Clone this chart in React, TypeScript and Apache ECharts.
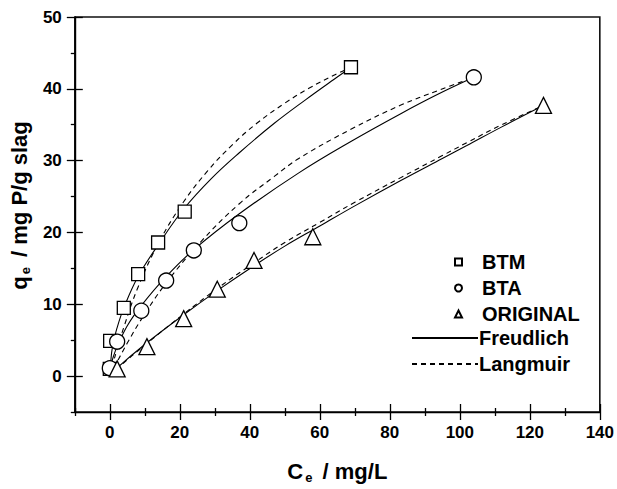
import React, { useEffect, useRef } from "react";
import * as echarts from "echarts";

// Experimental points (Ce, qe)
const BTM = [[0, 1.0], [0.1, 4.9], [4.0, 9.5], [8.1, 14.2], [13.8, 18.6], [21.4, 22.9], [68.9, 43.0]];
const BTA = [[0, 1.1], [2.1, 4.8], [9.0, 9.1], [16.1, 13.3], [24.0, 17.5], [37.0, 21.3], [104.0, 41.6]];
const ORIGINAL = [[2.1, 1.0], [10.6, 4.1], [21.1, 8.0], [30.7, 12.1], [41.2, 16.1], [58.0, 19.4], [123.9, 37.7]];

// Fitted curves
const BTM_FREUNDLICH = [[0, 0], [0.5, 3.2], [1, 4.6], [2, 6.6], [4, 9.5], [8, 13.8], [14, 18.4], [21, 23.2], [29, 27.5], [37, 31.1], [47, 35.2], [56, 38.5], [64, 41.3], [69, 43.0]];
const BTM_LANGMUIR = [[0, 0], [1, 1.9], [2, 3.6], [4, 6.8], [8, 12.3], [14, 18.6], [21, 24.2], [28, 28.6], [35, 32.2], [42, 35.2], [50, 38.0], [57, 40.1], [64, 41.9], [69, 43.0]];
const BTA_FREUNDLICH = [[0, 0], [0.5, 1.8], [1, 2.7], [2, 4.0], [5, 7.0], [9, 9.8], [16, 13.8], [24, 17.6], [37, 22.6], [54, 28.3], [69, 32.7], [83, 36.5], [94, 39.3], [104, 41.6]];
const BTA_LANGMUIR = [[0, 0], [2, 1.9], [5, 4.6], [9, 7.9], [16, 12.9], [26, 18.7], [37, 24.0], [47, 27.8], [54, 30.3], [69, 34.4], [83, 37.7], [94, 39.8], [104, 41.6]];
const ORIGINAL_FREUNDLICH = [[0, 0], [2, 1.1], [10.5, 4.6], [21, 8.5], [31, 12.0], [41, 15.3], [50, 18.1], [60, 20.9], [70, 23.7], [83, 27.2], [95, 30.3], [102, 32.1], [112, 34.7], [124, 37.7]];
const ORIGINAL_LANGMUIR = [[0, 0], [2, 1.0], [10.5, 4.5], [21, 8.6], [31, 12.3], [41, 15.7], [50, 18.6], [60, 21.4], [70, 24.2], [83, 27.6], [95, 30.7], [102, 32.5], [112, 35.0], [124, 37.7]];

// Axis ticks
const X_MAJOR = [0, 20, 40, 60, 80, 100, 120, 140];
const X_MINOR = [-10, 10, 30, 50, 70, 90, 110, 130];
const Y_MAJOR = [0, 10, 20, 30, 40, 50];
const Y_MINOR = [-5, 5, 15, 25, 35, 45];

const FONT = "'Liberation Sans', Arial, sans-serif";

export default function App() {
  const ref = useRef<HTMLDivElement>(null);
  useEffect(() => {
    if (!ref.current) return;
    const chart = echarts.init(ref.current, null, { renderer: "svg" });
    const black = "#000";
    const xBase = { type: "value", min: -10, max: 140, gridIndex: 0, position: "bottom", splitLine: { show: false } };
    const yBase = { type: "value", min: -5, max: 50, gridIndex: 0, position: "left", splitLine: { show: false } };
    const tickStyle = { color: black, width: 1.3 };
    const hiddenLine = { show: false, onZero: false };
    const scatter = (name: string, data: number[][], symbol: string, size: number) => ({
      type: "scatter",
      name,
      data,
      symbol,
      symbolSize: size,
      itemStyle: { color: "#fff", borderColor: black, borderWidth: 1.3, opacity: 1 },
      z: 5,
    });
    const line = (name: string, data: number[][], dashed: boolean) => ({
      type: "line",
      name,
      data,
      showSymbol: false,
      symbol: "none",
      smooth: 0.4,
      lineStyle: { color: black, width: 1.1, type: dashed ? [5, 4] : "solid" },
      itemStyle: { color: black },
      z: 3,
    });
    chart.setOption({
      animation: false,
      backgroundColor: "#fff",
      textStyle: { fontFamily: FONT },
      grid: { left: 74, right: 17, top: 17, bottom: 74, show: true, borderColor: "#111", borderWidth: 1.6, backgroundColor: "transparent" },
      xAxis: [
        {
          ...xBase,
          axisLine: { show: true, onZero: false, lineStyle: { color: black, width: 1.4 } },
          axisTick: { show: true, customValues: X_MAJOR, length: 8, inside: false, lineStyle: tickStyle },
          axisLabel: { show: true, customValues: X_MAJOR, color: black, fontSize: 17, fontWeight: "bold", fontFamily: FONT, margin: 12 },
          name: "C{sub|e} / mg/L",
          nameLocation: "middle",
          nameGap: 46,
          nameTextStyle: {
            color: black, fontSize: 22, fontWeight: "bold", fontFamily: FONT,
            rich: { sub: { fontSize: 13, fontWeight: "bold", fontFamily: FONT, color: black, padding: [13, 4, 0, 2] } },
          },
        },
        { ...xBase, axisLine: hiddenLine, axisTick: { show: true, customValues: X_MAJOR, length: 8, inside: true, lineStyle: tickStyle }, axisLabel: { show: false } },
        { ...xBase, axisLine: hiddenLine, axisTick: { show: true, customValues: X_MINOR, length: 4, inside: false, lineStyle: tickStyle }, axisLabel: { show: false } },
        { ...xBase, axisLine: hiddenLine, axisTick: { show: true, customValues: X_MINOR, length: 4, inside: true, lineStyle: tickStyle }, axisLabel: { show: false } },
      ],
      yAxis: [
        {
          ...yBase,
          axisLine: { show: true, onZero: false, lineStyle: { color: black, width: 1.4 } },
          axisTick: { show: true, customValues: Y_MAJOR, length: 8, inside: false, lineStyle: tickStyle },
          axisLabel: { show: true, customValues: Y_MAJOR, color: black, fontSize: 17, fontWeight: "bold", fontFamily: FONT, margin: 13 },
          name: "q{sub|e} / mg P/g slag",
          nameLocation: "middle",
          nameGap: 40,
          nameRotate: 90,
          nameTextStyle: {
            color: black, fontSize: 22, fontWeight: "bold", fontFamily: FONT, padding: [0, 0, 0, 18],
            rich: { sub: { fontSize: 13, fontWeight: "bold", fontFamily: FONT, color: black, padding: [13, 4, 0, 2] } },
          },
        },
        { ...yBase, axisLine: hiddenLine, axisTick: { show: true, customValues: Y_MAJOR, length: 8, inside: true, lineStyle: tickStyle }, axisLabel: { show: false } },
        { ...yBase, axisLine: hiddenLine, axisTick: { show: true, customValues: Y_MINOR, length: 4, inside: false, lineStyle: tickStyle }, axisLabel: { show: false } },
      ],
      legend: [
        {
          data: ["BTM", "BTA", "ORIGINAL"],
          orient: "vertical",
          left: 449,
          top: 247,
          itemWidth: 7,
          itemHeight: 7,
          itemGap: 6,
          textStyle: { color: black, fontSize: 20, fontWeight: "bold", fontFamily: FONT, padding: [0, 0, 0, 15] },
          selectedMode: false,
        },
        {
          data: ["Freudlich", "Langmuir"],
          orient: "vertical",
          left: 406,
          top: 323,
          itemWidth: 66,
          itemHeight: 12,
          itemGap: 6,
          itemStyle: { opacity: 0, borderWidth: 0 },
          textStyle: { color: black, fontSize: 20, fontWeight: "bold", fontFamily: FONT, padding: [0, 0, 0, -4] },
          selectedMode: false,
        },
      ],
      series: [
        line("Freudlich", BTM_FREUNDLICH, false),
        line("Langmuir", BTM_LANGMUIR, true),
        line("Freudlich", BTA_FREUNDLICH, false),
        line("Langmuir", BTA_LANGMUIR, true),
        line("Freudlich", ORIGINAL_FREUNDLICH, false),
        line("Langmuir", ORIGINAL_LANGMUIR, true),
        scatter("BTM", BTM, "rect", 13),
        scatter("BTA", BTA, "circle", 15),
        scatter("ORIGINAL", ORIGINAL, "triangle", 16),
      ],
    });
    return () => chart.dispose();
  }, []);
  return <div ref={ref} style={{ width: 617, height: 489, position: "absolute", left: 0, top: 0, background: "#fff" }} />;
}
